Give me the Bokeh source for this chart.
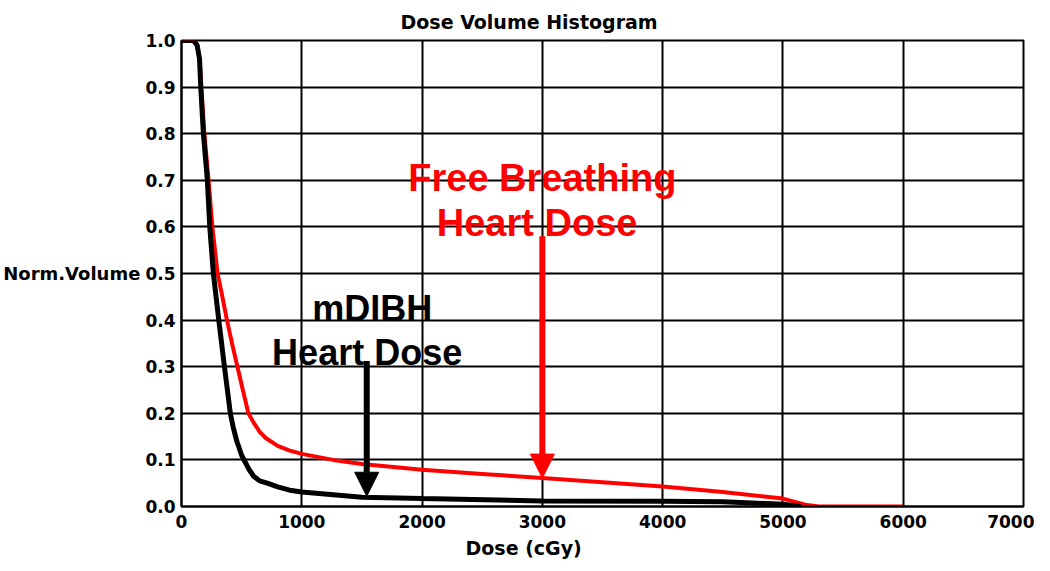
from bokeh.plotting import figure
from bokeh.models import (Range1d, FixedTicker, PrintfTickFormatter, Title, Label,
                          Arrow, NormalHead)
from bokeh.embed import file_html
from bokeh.resources import INLINE

# ---- data ----
fb_dose = [0, 100, 130, 150, 165, 190, 225, 257, 300, 340, 378, 420, 465, 510, 556, 600,
           650, 700, 800, 900, 1000, 1260, 1500, 2000, 2500, 3000, 3500, 4000, 4500,
           4900, 5000, 5200, 5300, 6000]
fb_vol = [1.0, 1.0, 0.99, 0.96, 0.9, 0.8, 0.7, 0.6, 0.5, 0.45, 0.4, 0.35, 0.3, 0.25, 0.2,
          0.18, 0.16, 0.147, 0.13, 0.12, 0.113, 0.1, 0.091, 0.079, 0.07, 0.061, 0.052,
          0.043, 0.031, 0.02, 0.017, 0.003, 0.0, 0.0]

dibh_dose = [0, 100, 130, 150, 160, 182, 215, 235, 265, 310, 357, 406, 430, 460, 500,
             530, 560, 600, 650, 713, 800, 900, 1000, 1500, 2000, 3000, 4000, 4500,
             5000, 5150]
dibh_vol = [1.0, 1.0, 0.99, 0.96, 0.9, 0.8, 0.7, 0.6, 0.5, 0.4, 0.3, 0.2, 0.17, 0.14,
            0.11, 0.095, 0.08, 0.065, 0.055, 0.05, 0.042, 0.035, 0.031, 0.02, 0.017,
            0.012, 0.011, 0.01, 0.005, 0.0]

x_ticks = [0, 1000, 2000, 3000, 4000, 5000, 6000, 7000]
y_ticks = [0.0, 0.1, 0.2, 0.3, 0.4, 0.5, 0.6, 0.7, 0.8, 0.9, 1.0]

# annotation anchors (data units)
fb_text_x = 3000
fb_text_y = [0.705, 0.609]
fb_text = ["Free Breathing", "Heart  Dose"]
dibh_text_x = 1585
dibh_text_y = [0.425, 0.331]
dibh_text = ["mDIBH", "Heart  Dose"]
fb_arrow = (3000, 0.58, 3000, 0.061)
dibh_arrow = (1540, 0.312, 1540, 0.022)

p = figure(width=1034, height=563, output_backend="svg", toolbar_location=None,
           x_range=Range1d(0, 7000), y_range=Range1d(0, 1.0),
           min_border_left=181, min_border_right=11, min_border_top=39,
           min_border_bottom=55)

p.background_fill_color = "white"
p.border_fill_color = "white"
p.outline_line_color = "black"
p.outline_line_width = 2

for g in (p.xgrid[0], p.ygrid[0]):
    g.grid_line_color = "black"
    g.grid_line_width = 2
p.xgrid[0].ticker = FixedTicker(ticks=x_ticks)
p.ygrid[0].ticker = FixedTicker(ticks=y_ticks)

tick_font = "DejaVu Sans"
xa = p.xaxis[0]
xa.ticker = FixedTicker(ticks=x_ticks)
xa.axis_line_color = "black"
xa.axis_line_width = 2
xa.major_tick_line_color = None
xa.minor_tick_line_color = None
xa.major_label_text_font = tick_font
xa.major_label_text_font_size = "17px"
xa.major_label_text_font_style = "bold"
xa.major_label_text_color = "black"
xa.major_label_standoff = 2

ya = p.yaxis[0]
ya.ticker = FixedTicker(ticks=y_ticks)
ya.formatter = PrintfTickFormatter(format="%.1f")
ya.axis_line_color = "black"
ya.axis_line_width = 2
ya.major_tick_line_color = None
ya.minor_tick_line_color = None
ya.major_label_text_font = tick_font
ya.major_label_text_font_size = "17px"
ya.major_label_text_font_style = "bold"
ya.major_label_text_color = "black"
ya.major_label_standoff = 0
ya.axis_label = "Norm.Volume"
ya.axis_label_orientation = "horizontal"
ya.axis_label_text_font = tick_font
ya.axis_label_text_font_size = "18px"
ya.axis_label_text_font_style = "bold"
ya.axis_label_text_color = "black"
ya.axis_label_standoff = 2

p.title = Title(text="Dose Volume Histogram", align="left", offset=219,
                text_font=tick_font, text_font_size="19px", text_font_style="bold",
                text_color="black", standoff=16)

p.add_layout(Title(text="Dose (cGy)", align="left", offset=284,
                   text_font=tick_font, text_font_size="19px", text_font_style="bold",
                   text_color="black", standoff=9), "below")

# curves
p.line(fb_dose, fb_vol, line_color="#ff0000", line_width=4)
p.line(dibh_dose, dibh_vol, line_color="black", line_width=5)

# arrows
p.add_layout(Arrow(end=NormalHead(size=24, fill_color="#ff0000", line_color="#ff0000"),
                   x_start=fb_arrow[0], y_start=fb_arrow[1],
                   x_end=fb_arrow[2], y_end=fb_arrow[3],
                   line_color="#ff0000", line_width=6))
p.add_layout(Arrow(end=NormalHead(size=24, fill_color="black", line_color="black"),
                   x_start=dibh_arrow[0], y_start=dibh_arrow[1],
                   x_end=dibh_arrow[2], y_end=dibh_arrow[3],
                   line_color="black", line_width=6))

# annotation texts
for t, y in zip(fb_text, fb_text_y):
    p.add_layout(Label(x=fb_text_x, y=y, text=t, text_align="center",
                       text_baseline="alphabetic", text_font="Liberation Sans",
                       text_font_style="bold", text_font_size="38px",
                       text_color="#ff0000"))
for t, y in zip(dibh_text, dibh_text_y):
    p.add_layout(Label(x=dibh_text_x, y=y, text=t, text_align="center",
                       text_baseline="alphabetic", text_font="Liberation Sans",
                       text_font_style="bold", text_font_size="36px",
                       text_color="black"))

open("out.html", "w").write(file_html(p, INLINE))
